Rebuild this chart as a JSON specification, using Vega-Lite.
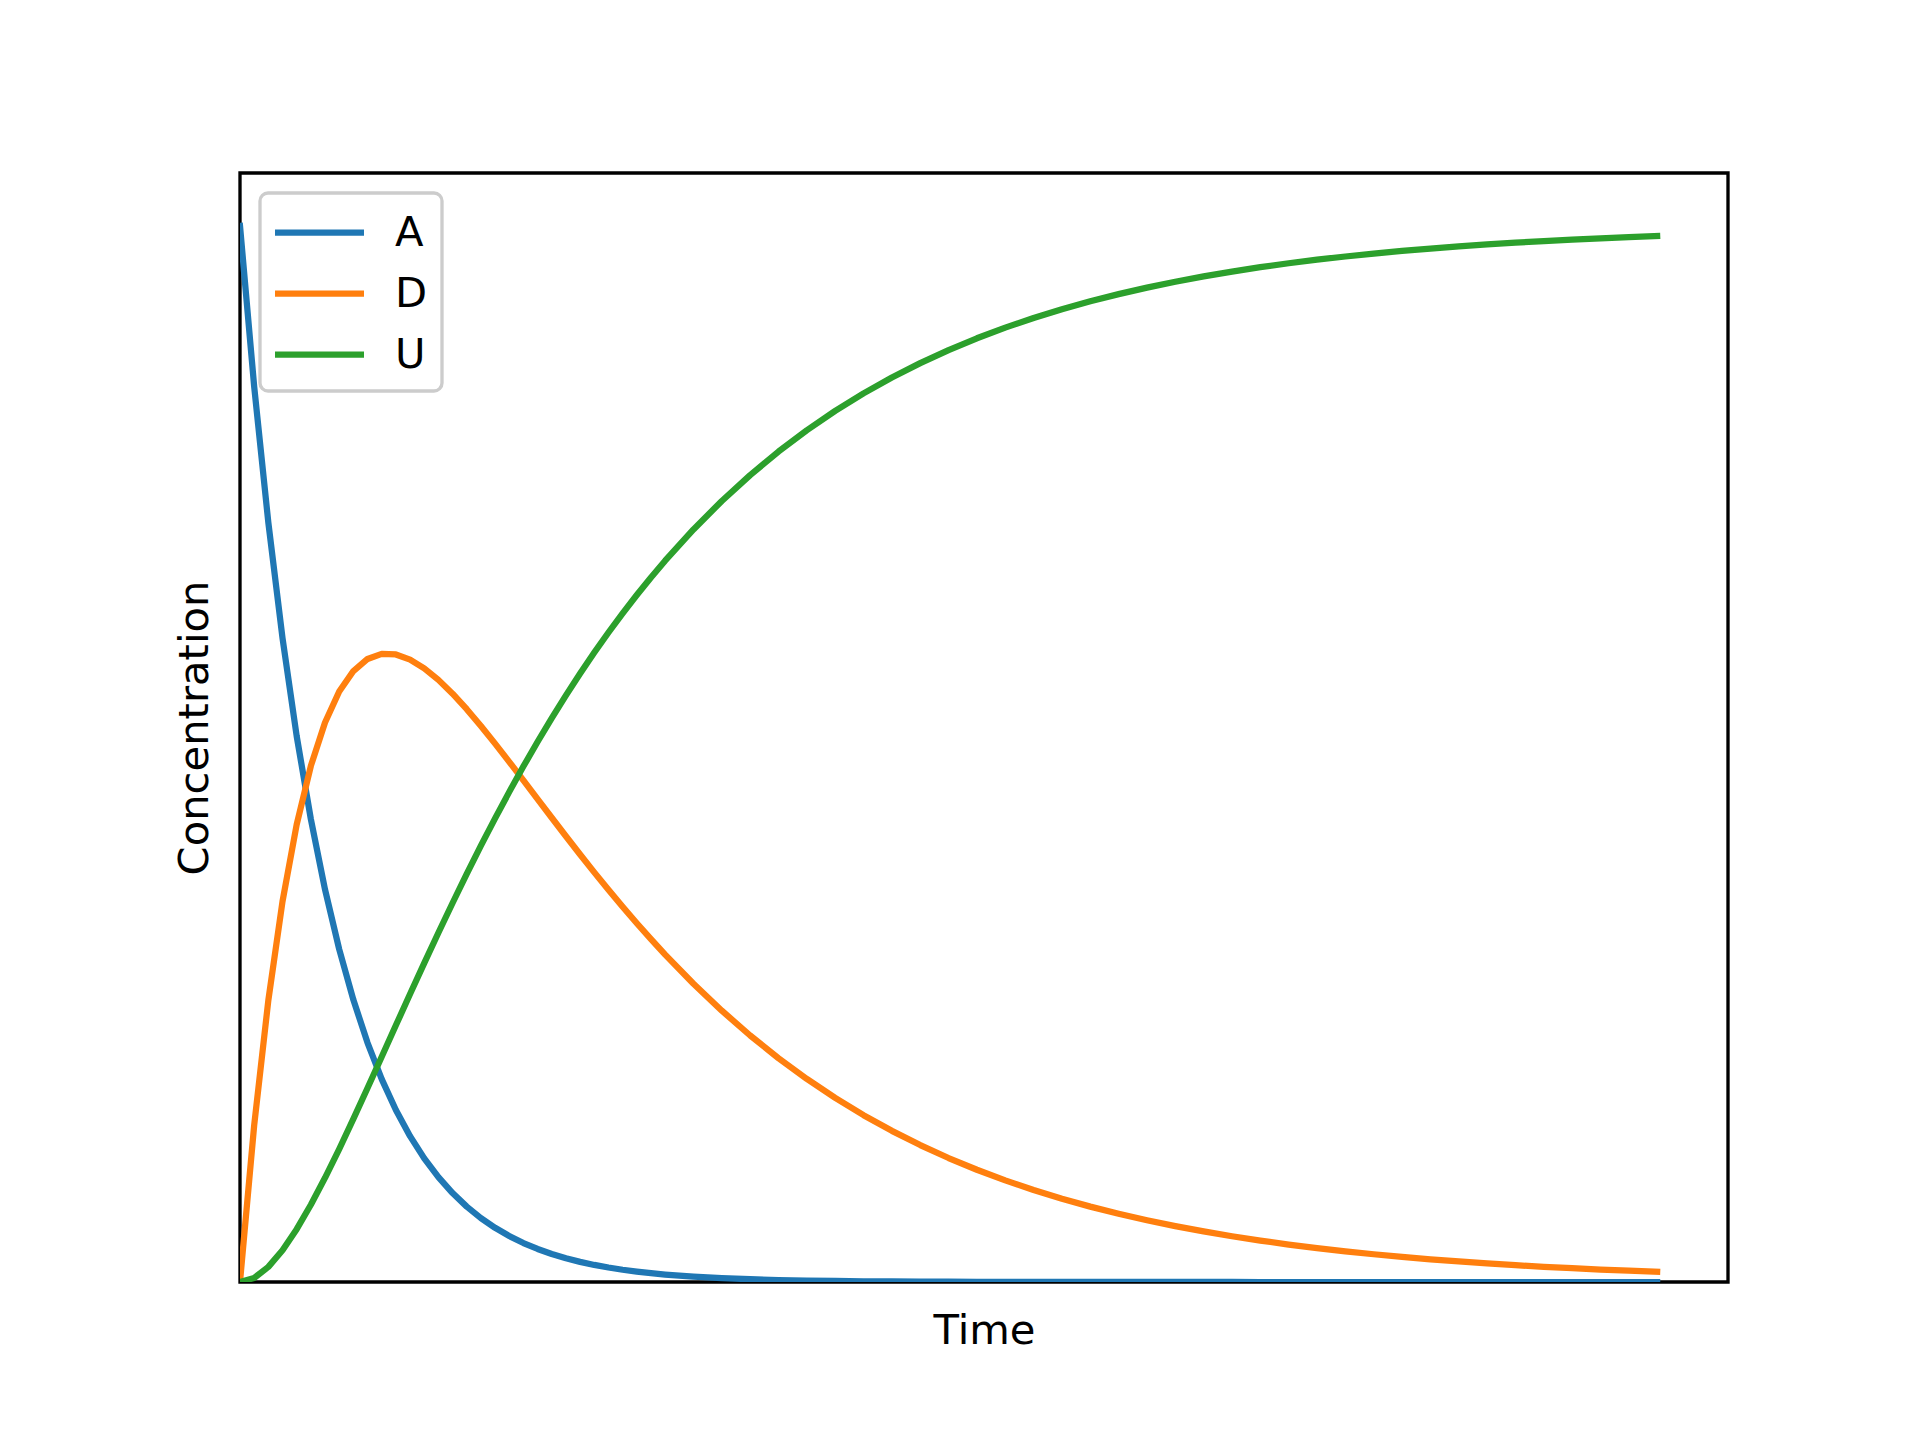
{
  "$schema": "https://vega.github.io/schema/vega-lite/v6.json",
  "width": 1488,
  "height": 1109,
  "autosize": {"type": "none"},
  "padding": {"left": 240, "top": 173, "right": 192, "bottom": 158},
  "background": "white",
  "config": {
    "font": "DejaVu Sans",
    "view": {"stroke": "black", "strokeWidth": 3.33},
    "axis": {"ticks": false, "labels": false, "domain": false, "grid": false, "titleFontSize": 41.7, "titleFontWeight": "normal", "titleColor": "black", "titleFont": "DejaVu Sans", "titleBaseline": "alphabetic"},
    "legend": {
      "orient": "none", "legendX": 20, "legendY": 20,
      "symbolType": "M-2,0H2", "symbolSize": 1980, "symbolStrokeWidth": 6.25, "symbolOffset": 20,
      "labelFontSize": 41.7, "labelFont": "DejaVu Sans", "labelColor": "black",
      "padding": 14, "rowPadding": 13, "labelOffset": 50,
      "strokeColor": "#cccccc", "strokeWidth": 3.33, "fillColor": "rgba(255,255,255,0.8)", "cornerRadius": 8
    }
  },
  "data": {"values": [
    {"t": 0, "A": 1, "D": 0, "U": 0},
    {"t": 1, "A": 0.84789, "D": 0.14827, "U": 0.00384},
    {"t": 2, "A": 0.71892, "D": 0.26676, "U": 0.01432},
    {"t": 3, "A": 0.60957, "D": 0.36033, "U": 0.0301},
    {"t": 4, "A": 0.51685, "D": 0.43313, "U": 0.05002},
    {"t": 5, "A": 0.43823, "D": 0.48864, "U": 0.07313},
    {"t": 6, "A": 0.37158, "D": 0.52977, "U": 0.09865},
    {"t": 7, "A": 0.31506, "D": 0.55903, "U": 0.12591},
    {"t": 8, "A": 0.26714, "D": 0.57847, "U": 0.15439},
    {"t": 9, "A": 0.2265, "D": 0.58988, "U": 0.18362},
    {"t": 10, "A": 0.19205, "D": 0.59468, "U": 0.21327},
    {"t": 11, "A": 0.16284, "D": 0.59415, "U": 0.24301},
    {"t": 12, "A": 0.13807, "D": 0.58932, "U": 0.27261},
    {"t": 13, "A": 0.11707, "D": 0.58105, "U": 0.30188},
    {"t": 14, "A": 0.09926, "D": 0.57008, "U": 0.33066},
    {"t": 15, "A": 0.08416, "D": 0.55699, "U": 0.35885},
    {"t": 16, "A": 0.07136, "D": 0.5423, "U": 0.38634},
    {"t": 17, "A": 0.06051, "D": 0.52641, "U": 0.41308},
    {"t": 18, "A": 0.0513, "D": 0.50973, "U": 0.43897},
    {"t": 19, "A": 0.0435, "D": 0.49247, "U": 0.46403},
    {"t": 20, "A": 0.03688, "D": 0.47491, "U": 0.48821},
    {"t": 21, "A": 0.03127, "D": 0.45722, "U": 0.51151},
    {"t": 22, "A": 0.02652, "D": 0.43954, "U": 0.53394},
    {"t": 23, "A": 0.02248, "D": 0.42205, "U": 0.55547},
    {"t": 24, "A": 0.01906, "D": 0.40479, "U": 0.57615},
    {"t": 25, "A": 0.01616, "D": 0.38788, "U": 0.59596},
    {"t": 26, "A": 0.0137, "D": 0.37136, "U": 0.61494},
    {"t": 27, "A": 0.01162, "D": 0.35528, "U": 0.6331},
    {"t": 28, "A": 0.00985, "D": 0.33968, "U": 0.65047},
    {"t": 29, "A": 0.00835, "D": 0.32458, "U": 0.66707},
    {"t": 30, "A": 0.00708, "D": 0.30998, "U": 0.68294},
    {"t": 32, "A": 0.00509, "D": 0.28238, "U": 0.71253},
    {"t": 34, "A": 0.00366, "D": 0.25685, "U": 0.73949},
    {"t": 36, "A": 0.00263, "D": 0.23339, "U": 0.76398},
    {"t": 38, "A": 0.00189, "D": 0.21189, "U": 0.78622},
    {"t": 40, "A": 0.00136, "D": 0.19223, "U": 0.80641},
    {"t": 42, "A": 0.00098, "D": 0.1743, "U": 0.82472},
    {"t": 44, "A": 0.0007, "D": 0.15797, "U": 0.84133},
    {"t": 46, "A": 0.00051, "D": 0.14312, "U": 0.85637},
    {"t": 48, "A": 0.00036, "D": 0.12965, "U": 0.86999},
    {"t": 50, "A": 0.00026, "D": 0.11739, "U": 0.88235},
    {"t": 52, "A": 0.00019, "D": 0.10629, "U": 0.89352},
    {"t": 54, "A": 0.00013, "D": 0.09624, "U": 0.90363},
    {"t": 56, "A": 0.0001, "D": 0.08711, "U": 0.91279},
    {"t": 58, "A": 0.00007, "D": 0.07884, "U": 0.92109},
    {"t": 60, "A": 0.00005, "D": 0.07137, "U": 0.92858},
    {"t": 62, "A": 0.00004, "D": 0.06464, "U": 0.93532},
    {"t": 64, "A": 0.00003, "D": 0.05848, "U": 0.94149},
    {"t": 66, "A": 0.00002, "D": 0.05292, "U": 0.94706},
    {"t": 68, "A": 0.00001, "D": 0.04788, "U": 0.95211},
    {"t": 70, "A": 0.00001, "D": 0.04333, "U": 0.95666},
    {"t": 72, "A": 0, "D": 0.0392, "U": 0.9608},
    {"t": 74, "A": 0, "D": 0.03547, "U": 0.96453},
    {"t": 76, "A": 0, "D": 0.0321, "U": 0.9679},
    {"t": 78, "A": 0, "D": 0.02904, "U": 0.97096},
    {"t": 80, "A": 0, "D": 0.02628, "U": 0.97372},
    {"t": 82, "A": 0, "D": 0.02378, "U": 0.97622},
    {"t": 84, "A": 0, "D": 0.02152, "U": 0.97848},
    {"t": 86, "A": 0, "D": 0.01947, "U": 0.98053},
    {"t": 88, "A": 0, "D": 0.01761, "U": 0.98239},
    {"t": 90, "A": 0, "D": 0.01594, "U": 0.98406},
    {"t": 92, "A": 0, "D": 0.01442, "U": 0.98558},
    {"t": 94, "A": 0, "D": 0.01305, "U": 0.98695},
    {"t": 96, "A": 0, "D": 0.01181, "U": 0.98819},
    {"t": 98, "A": 0, "D": 0.01068, "U": 0.98932},
    {"t": 100, "A": 0, "D": 0.00967, "U": 0.99033}
  ]},
  "transform": [{"fold": ["A", "D", "U"], "as": ["species", "value"]}],
  "mark": {"type": "line", "strokeWidth": 6.25, "strokeCap": "square", "strokeJoin": "round", "clip": true},
  "encoding": {
    "x": {"field": "t", "type": "quantitative", "scale": {"domain": [0, 105], "nice": false, "zero": false}, "axis": {"title": "Time", "titlePadding": 61}},
    "y": {"field": "value", "type": "quantitative", "scale": {"domain": [0, 1.05], "nice": false}, "axis": {"title": "Concentration", "titlePadding": 33}},
    "color": {"field": "species", "type": "nominal", "scale": {"domain": ["A", "D", "U"], "range": ["#1f77b4", "#ff7f0e", "#2ca02c"]}, "legend": {"title": null}},
    "order": {"field": "t", "type": "quantitative"}
  }
}
